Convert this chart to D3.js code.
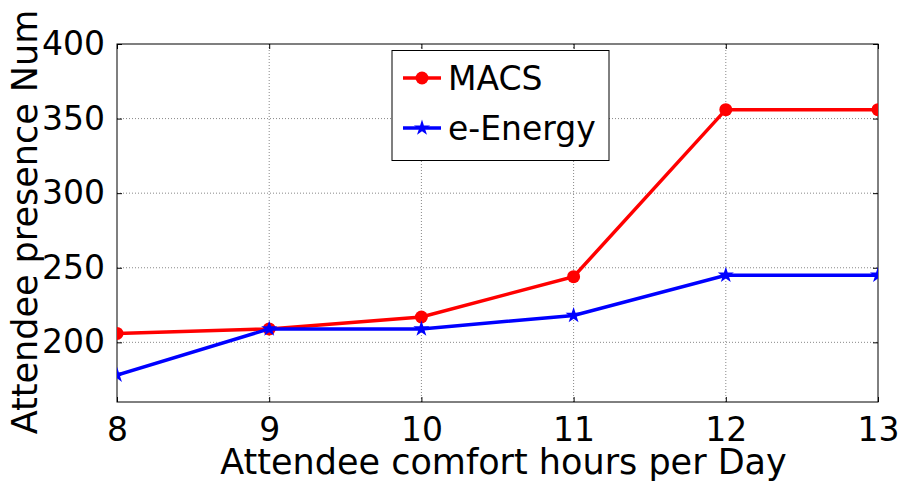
<!DOCTYPE html>
<html><head><meta charset="utf-8">
<script src="https://cdn.jsdelivr.net/npm/d3@7"></script>
<style>body{margin:0;background:#fff}svg{display:block}text{font-family:"DejaVu Sans",sans-serif;fill:#000}</style>
</head><body>
<svg id="c" width="904" height="482"></svg>
<script>
const hours = [8, 9, 10, 11, 12, 13];
const macs = [206, 209, 217, 244, 356, 356];
const eEnergy = [178, 209, 209, 218, 245, 245];
const yTicks = [200, 250, 300, 350, 400];
const xTicks = [8, 9, 10, 11, 12, 13];
const seriesNames = ["MACS", "e-Energy"];

const svg = d3.select("#c");
const L = 117, R = 878, T = 44, B = 402;
const x = d3.scaleLinear().domain([8, 13]).range([L, R]);
const y = d3.scaleLinear().domain([160, 400]).range([B, T]);
const fs = 35, tfs = 33;

svg.append("defs").append("clipPath").attr("id", "clip")
  .append("rect").attr("x", L).attr("y", T).attr("width", R - L).attr("height", B - T);

// grid
const grid = svg.append("g");
grid.selectAll(".gx").data(xTicks.slice(1, -1)).join("line")
  .attr("x1", d => x(d)).attr("x2", d => x(d)).attr("y1", T).attr("y2", B)
  .attr("stroke", "#888").attr("stroke-width", 1).attr("stroke-dasharray", "1,2");
grid.selectAll(".gy").data(yTicks.filter(d => d < 400)).join("line")
  .attr("y1", d => y(d)).attr("y2", d => y(d)).attr("x1", L).attr("x2", R)
  .attr("stroke", "#888").attr("stroke-width", 1).attr("stroke-dasharray", "1,2");

// axes with inside ticks on all four sides
const tl = 5;
const fmt = d3.format("d");
const axB = svg.append("g").attr("transform", `translate(0,${B})`)
  .call(d3.axisBottom(x).tickValues(xTicks).tickFormat(fmt).tickSize(-tl).tickPadding(tl + 11).tickSizeOuter(0));
const axT = svg.append("g").attr("transform", `translate(0,${T})`)
  .call(d3.axisTop(x).tickValues(xTicks).tickSize(-tl).tickFormat("").tickSizeOuter(0));
const axL = svg.append("g").attr("transform", `translate(${L},0)`)
  .call(d3.axisLeft(y).tickValues(yTicks).tickFormat(fmt).tickSize(-tl).tickPadding(tl + 7).tickSizeOuter(0));
const axR = svg.append("g").attr("transform", `translate(${R},0)`)
  .call(d3.axisRight(y).tickValues(yTicks).tickSize(-tl).tickFormat("").tickSizeOuter(0));
[axB, axT, axL, axR].forEach(a => {
  a.select(".domain").remove();
  a.selectAll("line").attr("stroke", "#000");
  a.selectAll("text").style("font-size", tfs + "px").style("font-family", '"DejaVu Sans",sans-serif').attr("fill", "#000");
});
axB.selectAll("text").attr("dy", "0.71em");

// frame
svg.append("rect").attr("x", L).attr("y", T).attr("width", R - L).attr("height", B - T)
  .attr("fill", "none").attr("stroke", "#000").attr("stroke-width", 1);

// series
const plot = svg.append("g").attr("clip-path", "url(#clip)");
const line = d3.line().x((d, i) => x(hours[i])).y(d => y(d));
plot.append("path").datum(macs).attr("d", line).attr("fill", "none").attr("stroke", "#ff0000").attr("stroke-width", 3.5);
plot.selectAll(".m").data(macs).join("circle").attr("cx", (d, i) => x(hours[i])).attr("cy", d => y(d)).attr("r", 6.5).attr("fill", "#ff0000");
plot.append("path").datum(eEnergy).attr("d", line).attr("fill", "none").attr("stroke", "#0000ff").attr("stroke-width", 3.5);
const star = d3.symbol().type(d3.symbolStar).size(80);
plot.selectAll(".e").data(eEnergy).join("path").attr("d", star)
  .attr("transform", (d, i) => `translate(${x(hours[i])},${y(d)})`).attr("fill", "#0000ff");

// legend
const lg = svg.append("g");
lg.append("rect").attr("x", 392).attr("y", 50.5).attr("width", 217).attr("height", 110)
  .attr("fill", "#fff").attr("stroke", "#000").attr("stroke-width", 1);
const rows = [{n: seriesNames[0], c: "#ff0000", y: 78}, {n: seriesNames[1], c: "#0000ff", y: 128}];
rows.forEach((r, i) => {
  lg.append("line").attr("x1", 403).attr("x2", 441).attr("y1", r.y).attr("y2", r.y).attr("stroke", r.c).attr("stroke-width", 3.5);
  if (i === 0) lg.append("circle").attr("cx", 422).attr("cy", r.y).attr("r", 6.5).attr("fill", r.c);
  else lg.append("path").attr("d", star).attr("transform", `translate(422,${r.y})`).attr("fill", r.c);
  lg.append("text").attr("x", 448).attr("y", r.y).attr("dy", "0.36em").style("font-size", tfs + "px").text(r.n);
});

// axis labels
svg.append("text").attr("x", (L + R) / 2 + 6).attr("y", 474).attr("text-anchor", "middle")
  .style("font-size", fs + "px").text("Attendee comfort hours per Day");
svg.append("text").attr("transform", `translate(37,${222}) rotate(-90)`).attr("text-anchor", "middle")
  .style("font-size", fs + "px").text("Attendee presence Num");
</script>
</body></html>
